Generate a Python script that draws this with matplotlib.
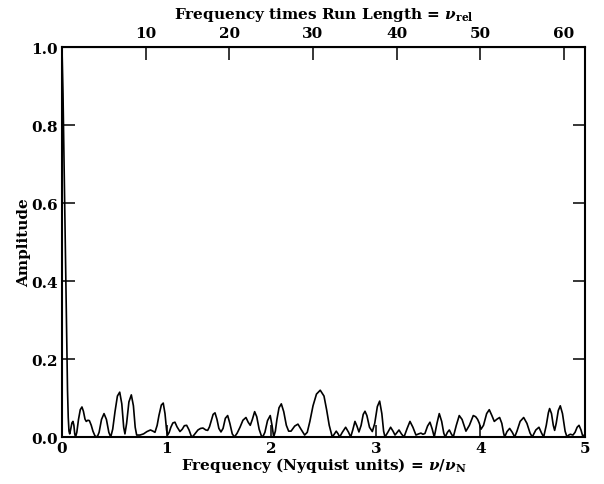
import matplotlib
matplotlib.use('Agg')
import matplotlib.pyplot as plt

# frequency in Nyquist units and the amplitude
freq = [0.000, 0.010, 0.019, 0.029, 0.038, 0.046, 0.053, 0.060, 0.067, 0.074,
        0.082, 0.095, 0.105, 0.114, 0.122, 0.130, 0.142, 0.158, 0.175, 0.191,
        0.205, 0.220, 0.232, 0.248, 0.262, 0.280, 0.296, 0.315, 0.337, 0.355,
        0.378, 0.402, 0.425, 0.448, 0.466, 0.485, 0.507, 0.530, 0.552, 0.572,
        0.590, 0.602, 0.618, 0.640, 0.663, 0.683, 0.700, 0.714, 0.746, 0.780,
        0.813, 0.846, 0.870, 0.889, 0.910, 0.927, 0.950, 0.968, 0.985, 1.000,
        1.010, 1.025, 1.041, 1.060, 1.080, 1.100, 1.128, 1.150, 1.170, 1.192,
        1.215, 1.235, 1.246, 1.265, 1.300, 1.325, 1.348, 1.375, 1.393, 1.410,
        1.425, 1.445, 1.463, 1.482, 1.500, 1.520, 1.540, 1.562, 1.584, 1.605,
        1.628, 1.649, 1.675, 1.702, 1.730, 1.759, 1.780, 1.800, 1.820, 1.842,
        1.862, 1.885, 1.905, 1.919, 1.940, 1.965, 1.991, 2.008, 2.024, 2.040,
        2.055, 2.075, 2.097, 2.120, 2.145, 2.167, 2.190, 2.225, 2.256, 2.285,
        2.320, 2.345, 2.370, 2.400, 2.433, 2.469, 2.505, 2.530, 2.555, 2.584,
        2.600, 2.622, 2.640, 2.655, 2.680, 2.712, 2.740, 2.760, 2.780, 2.801,
        2.820, 2.839, 2.860, 2.880, 2.897, 2.915, 2.940, 2.967, 2.990, 3.015,
        3.037, 3.058, 3.075, 3.088, 3.115, 3.142, 3.165, 3.184, 3.205, 3.222,
        3.245, 3.270, 3.300, 3.327, 3.355, 3.384, 3.410, 3.432, 3.451, 3.470,
        3.495, 3.518, 3.540, 3.559, 3.585, 3.607, 3.630, 3.650, 3.664, 3.685,
        3.703, 3.722, 3.741, 3.770, 3.798, 3.825, 3.862, 3.895, 3.932, 3.955,
        3.974, 3.990, 4.006, 4.030, 4.060, 4.085, 4.110, 4.133, 4.160, 4.184,
        4.205, 4.222, 4.232, 4.255, 4.280, 4.305, 4.328, 4.350, 4.380, 4.414,
        4.445, 4.475, 4.496, 4.530, 4.560, 4.585, 4.605, 4.630, 4.650, 4.662,
        4.680, 4.697, 4.710, 4.725, 4.745, 4.764, 4.785, 4.810, 4.828, 4.845,
        4.860, 4.885, 4.905, 4.925, 4.943, 4.962, 4.981, 5.000]
amplitud = [1.000, 0.880, 0.720, 0.540, 0.380, 0.240, 0.120, 0.050, 0.015, 0.008,
            0.018, 0.036, 0.040, 0.030, 0.008, 0.000, 0.012, 0.045, 0.070, 0.077,
            0.066, 0.046, 0.040, 0.043, 0.042, 0.030, 0.015, 0.003, 0.000, 0.012,
            0.045, 0.060, 0.045, 0.012, 0.000, 0.020, 0.065, 0.105, 0.115, 0.085,
            0.025, 0.008, 0.035, 0.090, 0.108, 0.080, 0.025, 0.005, 0.005, 0.008,
            0.014, 0.018, 0.015, 0.012, 0.030, 0.055, 0.082, 0.087, 0.060, 0.018,
            0.005, 0.012, 0.025, 0.036, 0.038, 0.026, 0.014, 0.020, 0.029, 0.030,
            0.018, 0.003, 0.000, 0.006, 0.018, 0.022, 0.023, 0.018, 0.017, 0.026,
            0.040, 0.058, 0.062, 0.045, 0.022, 0.013, 0.022, 0.048, 0.055, 0.035,
            0.008, 0.000, 0.010, 0.025, 0.043, 0.050, 0.038, 0.030, 0.045, 0.065,
            0.052, 0.020, 0.004, 0.000, 0.012, 0.042, 0.055, 0.030, 0.000, 0.015,
            0.045, 0.075, 0.085, 0.065, 0.030, 0.015, 0.015, 0.028, 0.033, 0.020,
            0.005, 0.012, 0.040, 0.080, 0.110, 0.120, 0.105, 0.070, 0.030, 0.000,
            0.006, 0.015, 0.008, 0.000, 0.012, 0.025, 0.012, 0.000, 0.018, 0.040,
            0.028, 0.013, 0.030, 0.058, 0.066, 0.055, 0.025, 0.014, 0.035, 0.078,
            0.092, 0.060, 0.015, 0.000, 0.012, 0.025, 0.015, 0.005, 0.012, 0.018,
            0.008, 0.000, 0.022, 0.040, 0.025, 0.005, 0.008, 0.010, 0.007, 0.009,
            0.028, 0.038, 0.020, 0.000, 0.035, 0.060, 0.040, 0.010, 0.000, 0.012,
            0.018, 0.008, 0.000, 0.030, 0.055, 0.045, 0.015, 0.030, 0.055, 0.052,
            0.045, 0.035, 0.020, 0.030, 0.060, 0.070, 0.055, 0.040, 0.046, 0.050,
            0.035, 0.010, 0.000, 0.014, 0.022, 0.012, 0.000, 0.015, 0.040, 0.050,
            0.035, 0.010, 0.000, 0.018, 0.025, 0.010, 0.000, 0.030, 0.062, 0.073,
            0.060, 0.030, 0.017, 0.035, 0.068, 0.080, 0.060, 0.015, 0.000, 0.005,
            0.007, 0.005, 0.012, 0.025, 0.030, 0.018, 0.000, 0.008]

ticks_x = [0, 1, 2, 3, 4, 5]
ticks_y = [0.0, 0.2, 0.4, 0.6, 0.8, 1.0]
ticks_rel = [10, 20, 30, 40, 50, 60]
factor_rel = 12.5   # nu_rel = 12.5 * nu/nu_N

plt.rcParams['font.family'] = 'DejaVu Serif'
plt.rcParams['font.weight'] = 'bold'
plt.rcParams['mathtext.fontset'] = 'dejavuserif'
plt.rcParams['font.size'] = 11

fig = plt.figure(figsize=(6.04, 4.85), dpi=100)
ax = fig.add_axes([0.1026, 0.0969, 0.8659, 0.8041])

ax.plot(freq, amplitud, color='black', lw=1.2, solid_joinstyle='round')
ax.set_xlim(0, 5)
ax.set_ylim(0, 1.0)
ax.set_xticks(ticks_x)
ax.set_yticks(ticks_y)
ax.set_yticklabels([f'{v:.1f}' for v in ticks_y])
ax.tick_params(direction='in', length=9, width=1.1, right=True, pad=3)
for s in ax.spines.values():
    s.set_linewidth(1.5)

ax.set_xlabel(r'Frequency (Nyquist units) = $\nu/\nu_\mathbf{N}$', labelpad=0, fontweight='bold')
ax.set_ylabel('Amplitude', labelpad=0, fontweight='bold')

sec = ax.secondary_xaxis('top', functions=(lambda x: x * factor_rel, lambda x: x / factor_rel))
sec.set_xticks(ticks_rel)
sec.tick_params(direction='in', length=9, width=1.1, pad=5)
sec.set_xlabel(r'Frequency times Run Length = $\nu_\mathbf{rel}$', labelpad=6, fontweight='bold')

fig.savefig('out.png', dpi=100)
